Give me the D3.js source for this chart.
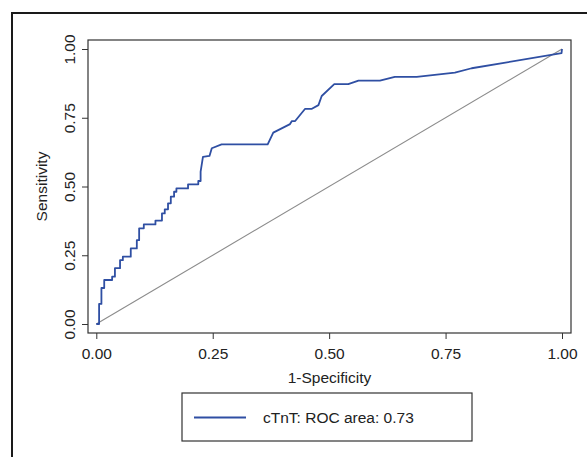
<!DOCTYPE html>
<html>
<head>
<meta charset="utf-8">
<script src="https://cdn.jsdelivr.net/npm/d3@7"></script>
<style>
  html, body { margin: 0; padding: 0; background: #fff; }
  svg { display: block; }
  text { font-family: "Liberation Sans", Arial, sans-serif; fill: #222; }
</style>
</head>
<body>
<svg id="chart" width="587" height="457"></svg>
<script>
// ROC curve points (1-Specificity, Sensitivity)
const fpr = [0.000, 0.006, 0.006, 0.011, 0.011, 0.017, 0.017, 0.034, 0.034, 0.040, 0.040, 0.051, 0.051, 0.057, 0.057,
  0.074, 0.074, 0.087, 0.087, 0.092, 0.092, 0.102, 0.102, 0.127, 0.127, 0.141, 0.141, 0.147, 0.147, 0.154, 0.154,
  0.160, 0.160, 0.167, 0.167, 0.172, 0.172, 0.197, 0.197, 0.219, 0.219, 0.224, 0.224, 0.229, 0.243, 0.248, 0.269,
  0.368, 0.380, 0.416, 0.420, 0.427, 0.448, 0.462, 0.477, 0.484, 0.511, 0.541, 0.563, 0.609, 0.641, 0.688, 0.770,
  0.806, 0.999, 1.000];
const tpr = [0.000, 0.000, 0.073, 0.073, 0.131, 0.131, 0.160, 0.160, 0.172, 0.172, 0.203, 0.203, 0.232, 0.232, 0.245,
  0.245, 0.275, 0.275, 0.305, 0.305, 0.348, 0.348, 0.362, 0.362, 0.376, 0.376, 0.402, 0.402, 0.417, 0.417, 0.439,
  0.439, 0.463, 0.463, 0.481, 0.481, 0.493, 0.493, 0.508, 0.508, 0.520, 0.520, 0.554, 0.608, 0.611, 0.639, 0.653,
  0.653, 0.696, 0.727, 0.738, 0.738, 0.782, 0.782, 0.796, 0.829, 0.872, 0.872, 0.885, 0.885, 0.899, 0.899, 0.914,
  0.930, 0.985, 1.000];
const refLine = [0, 1];
const xTicks = [0, 0.25, 0.5, 0.75, 1];
const yTicks = [0, 0.25, 0.5, 0.75, 1];
const xTitle = "1-Specificity";
const yTitle = "Sensitivity";
const legendLabel = "cTnT: ROC area: 0.73";

const svg = d3.select("#chart");
const FONT = "15.5px";

// outer graph frame
svg.append("rect").attr("x", 12).attr("y", 13).attr("width", 600).attr("height", 460)
  .attr("fill", "none").attr("stroke", "#1a1a1a").attr("stroke-width", 2);

const plot = { left: 88, top: 40, right: 571, bottom: 333 };
const x = d3.scaleLinear().domain([0, 1]).range([96.3, 562]);
const y = d3.scaleLinear().domain([0, 1]).range([324, 49]);

// plot region border
svg.append("rect").attr("x", plot.left).attr("y", plot.top)
  .attr("width", plot.right - plot.left).attr("height", plot.bottom - plot.top)
  .attr("fill", "none").attr("stroke", "#333").attr("stroke-width", 1.2);

// x axis
const xAxis = svg.append("g").attr("transform", `translate(0,${plot.bottom})`)
  .call(d3.axisBottom(x).tickValues(xTicks).tickFormat(d3.format(".2f")).tickSize(6).tickPadding(9).tickSizeOuter(0));
xAxis.select(".domain").remove();
xAxis.selectAll("line").attr("stroke", "#333");
xAxis.selectAll("text").style("font-size", FONT).attr("fill", "#222")
  .style("font-family", '"Liberation Sans", Arial, sans-serif');

// y axis
const yAxis = svg.append("g").attr("transform", `translate(${plot.left},0)`)
  .call(d3.axisLeft(y).tickValues(yTicks).tickFormat(d3.format(".2f")).tickSize(6).tickSizeOuter(0));
yAxis.select(".domain").remove();
yAxis.selectAll("line").attr("stroke", "#333");
yAxis.selectAll("text").remove();
yAxis.selectAll(".tick").append("text")
  .attr("transform", "translate(-13.5,0) rotate(-90)")
  .attr("text-anchor", "middle")
  .attr("x", 0).attr("y", 0)
  .style("font-size", FONT).attr("fill", "#222")
  .text(d => d3.format(".2f")(d));

// axis titles
svg.append("text").attr("x", (plot.left + plot.right) / 2).attr("y", 383)
  .attr("text-anchor", "middle").style("font-size", FONT).text(xTitle);
svg.append("text").attr("transform", `translate(47,${(y(0) + y(1)) / 2}) rotate(-90)`)
  .attr("text-anchor", "middle").style("font-size", FONT).text(yTitle);

// reference diagonal
svg.append("line")
  .attr("x1", x(refLine[0])).attr("y1", y(refLine[0]))
  .attr("x2", x(refLine[1])).attr("y2", y(refLine[1]))
  .attr("stroke", "#8c8c8c").attr("stroke-width", 1.1);

// ROC curve
const pts = fpr.map((d, i) => [d, tpr[i]]);
svg.append("path").datum(pts)
  .attr("d", d3.line().x(d => x(d[0])).y(d => y(d[1])))
  .attr("fill", "none").attr("stroke", "#2f4fa3").attr("stroke-width", 1.8)
  .attr("stroke-linejoin", "round");

// legend
const lg = svg.append("g");
lg.append("rect").attr("x", 182).attr("y", 393).attr("width", 290).attr("height", 48)
  .attr("fill", "#fff").attr("stroke", "#333").attr("stroke-width", 1.2);
lg.append("line").attr("x1", 194).attr("x2", 246).attr("y1", 417.5).attr("y2", 417.5)
  .attr("stroke", "#2f4fa3").attr("stroke-width", 1.8);
lg.append("text").attr("x", 263).attr("y", 422.5).style("font-size", FONT).text(legendLabel);
</script>
</body>
</html>
